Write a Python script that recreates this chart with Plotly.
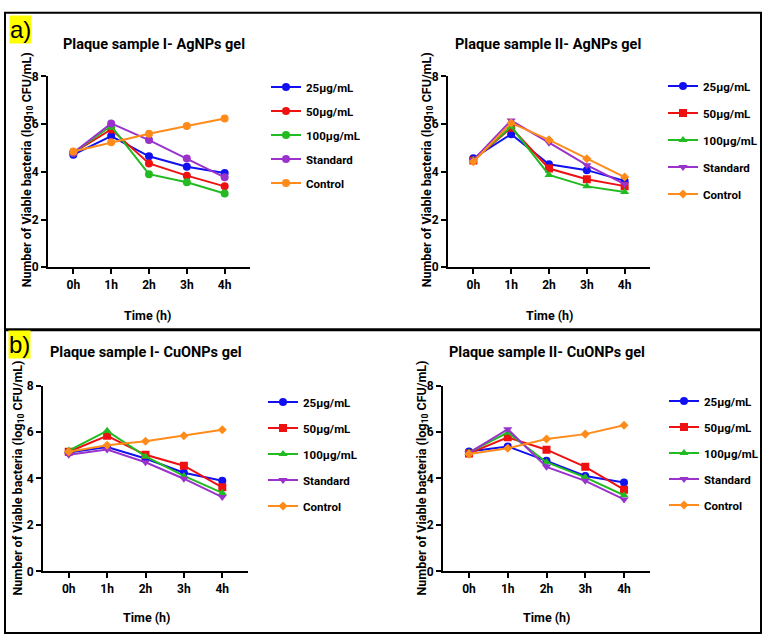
import plotly.graph_objects as go

W, H = 764, 642
times = ["0h", "1h", "2h", "3h", "4h"]
series_names = ["25µg/mL", "50µg/mL", "100µg/mL", "Standard", "Control"]
colors = ["#1010f0", "#ee1111", "#22bb22", "#9933cc", "#ff8c1a"]

# Panel a-left: Plaque sample I - AgNPs gel
a1_25 = [4.72, 5.50, 4.65, 4.21, 3.95]
a1_50 = [4.80, 5.78, 4.35, 3.84, 3.39]
a1_100 = [4.80, 5.92, 3.90, 3.56, 3.09]
a1_std = [4.80, 6.03, 5.33, 4.56, 3.77]
a1_ctrl = [4.85, 5.24, 5.60, 5.92, 6.24]

# Panel a-right: Plaque sample II - AgNPs gel
a2_25 = [4.57, 5.58, 4.32, 4.07, 3.62]
a2_50 = [4.48, 5.85, 4.14, 3.69, 3.40]
a2_100 = [4.50, 5.90, 3.87, 3.39, 3.15]
a2_std = [4.50, 6.15, 5.22, 4.28, 3.48]
a2_ctrl = [4.42, 6.05, 5.34, 4.55, 3.78]

# Panel b-left: Plaque sample I - CuONPs gel
b1_25 = [5.12, 5.35, 4.86, 4.25, 3.90]
b1_50 = [5.15, 5.84, 5.02, 4.55, 3.62]
b1_100 = [5.20, 6.05, 4.95, 4.11, 3.38]
b1_std = [5.02, 5.25, 4.70, 3.99, 3.20]
b1_ctrl = [5.15, 5.43, 5.60, 5.84, 6.10]

# Panel b-right: Plaque sample II - CuONPs gel
b2_25 = [5.16, 5.38, 4.76, 4.11, 3.83]
b2_50 = [5.08, 5.77, 5.24, 4.50, 3.52]
b2_100 = [5.12, 5.98, 4.70, 4.05, 3.28]
b2_std = [5.10, 6.12, 4.50, 3.90, 3.10]
b2_ctrl = [5.05, 5.30, 5.70, 5.91, 6.29]

y_ticks = [0, 2, 4, 6, 8]
titles = ["Plaque sample I- AgNPs gel", "Plaque sample II- AgNPs gel",
          "Plaque sample I- CuONPs gel", "Plaque sample II- CuONPs gel"]

FONT = "Roboto, Liberation Sans Narrow, Arial Narrow, Arial"

panels = [
    dict(data=[a1_25, a1_50, a1_100, a1_std, a1_ctrl],
         symbols=["circle"] * 5,
         x=(48, 250), y=(71, 266), legend=(266, 67), gap=5,
         title=(154, 38), xt=(148, 315), yt=(27, 167)),
    dict(data=[a2_25, a2_50, a2_100, a2_std, a2_ctrl],
         symbols=["circle", "square", "triangle-up", "triangle-down", "diamond"],
         x=(448, 650), y=(71, 266), legend=(663, 66), gap=8,
         title=(548, 38), xt=(550, 315), yt=(427, 167)),
    dict(data=[b1_25, b1_50, b1_100, b1_std, b1_ctrl],
         symbols=["circle", "square", "triangle-up", "triangle-down", "diamond"],
         x=(43, 248), y=(387, 577), legend=(263, 389), gap=7,
         title=(146, 353), xt=(147, 624), yt=(18, 482)),
    dict(data=[b2_25, b2_50, b2_100, b2_std, b2_ctrl],
         symbols=["circle", "square", "triangle-up", "triangle-down", "diamond"],
         x=(443, 650), y=(387, 577), legend=(664, 388), gap=7,
         title=(547, 353), xt=(547, 624), yt=(422, 482)),
]

fig = go.Figure()
annotations = []
layout = {}
for i, p in enumerate(panels):
    sfx = "" if i == 0 else str(i + 1)
    lg = "legend" if i == 0 else f"legend{i + 1}"
    for j, vals in enumerate(p["data"]):
        fig.add_trace(go.Scatter(
            x=times, y=vals, mode="lines+markers", name=series_names[j],
            line=dict(color=colors[j], width=2),
            marker=dict(color=colors[j], size=8 if p["symbols"][j] != "diamond" else 7,
                        symbol=p["symbols"][j]),
            xaxis="x" + sfx, yaxis="y" + sfx, legend=lg,
            legendgroup=f"g{i}_{j}",
        ))
    x0, x1 = p["x"]
    yt_, yb_ = p["y"]
    layout["xaxis" + sfx] = dict(
        domain=[x0 / W, x1 / W], anchor="y" + sfx, type="category",
        range=[-0.67, 4.67], showline=True, linecolor="black", linewidth=2,
        ticks="outside", ticklen=5, tickwidth=2, tickcolor="black",
        showgrid=False, zeroline=False,
        tickfont=dict(family=FONT, size=12, color="black", weight="bold"),
    )
    layout["yaxis" + sfx] = dict(
        domain=[1 - yb_ / H, 1 - yt_ / H], anchor="x" + sfx,
        range=[0, 8], tickvals=y_ticks, showline=True, linecolor="black",
        linewidth=2, ticks="outside", ticklen=5, tickwidth=2, tickcolor="black",
        showgrid=False, zeroline=False,
        tickfont=dict(family=FONT, size=12, color="black", weight="bold"),
    )
    lx, ly = p["legend"]
    layout[lg] = dict(
        x=lx / W, y=1 - ly / H, xanchor="left", yanchor="top",
        font=dict(family=FONT, size=11.5, color="black", weight="bold"),
        bgcolor="rgba(0,0,0,0)", tracegroupgap=p["gap"], itemwidth=30,
    )
    annotations.append(dict(
        text=titles[i], x=p["title"][0] / W, y=1 - p["title"][1] / H,
        xref="paper", yref="paper", showarrow=False,
        xanchor="center", yanchor="middle",
        font=dict(family=FONT, size=14.5, color="black", weight="bold")))
    annotations.append(dict(
        text="Time (h)", x=p["xt"][0] / W, y=1 - p["xt"][1] / H,
        xref="paper", yref="paper", showarrow=False,
        xanchor="center", yanchor="middle",
        font=dict(family=FONT, size=12.5, color="black", weight="bold")))
    annotations.append(dict(
        text="Number of Viable bacteria (log<sub>10</sub> CFU/mL)",
        x=p["yt"][0] / W, y=1 - p["yt"][1] / H, textangle=-90,
        xref="paper", yref="paper", showarrow=False,
        xanchor="center", yanchor="middle",
        font=dict(family=FONT, size=12.5, color="black", weight="bold")))

for lab, (cx, cy) in [("a)", (20, 23)), ("b)", (19, 345))]:
    annotations.append(dict(
        text=lab, x=cx / W, y=1 - cy / H, xref="paper", yref="paper",
        showarrow=False, bgcolor="#ffff00", borderpad=0,
        xanchor="center", yanchor="middle",
        font=dict(family="Liberation Sans, Arial", size=24, color="black")))

shapes = [
    dict(type="rect", xref="paper", yref="paper", x0=5 / W, x1=761 / W,
         y0=1 - 640 / H, y1=1 - 6 / H, line=dict(color="black", width=2)),
    dict(type="line", xref="paper", yref="paper", x0=5 / W, x1=761 / W,
         y0=1 - 330 / H, y1=1 - 330 / H, line=dict(color="black", width=3)),
]

fig.update_layout(
    width=W, height=H, margin=dict(l=0, r=0, t=0, b=0),
    paper_bgcolor="white", plot_bgcolor="white",
    annotations=annotations, shapes=shapes, **layout,
)
fig.write_html("out.html", config={"displayModeBar": False},
               post_script="document.body.style.margin='0';document.body.style.padding='0';")
